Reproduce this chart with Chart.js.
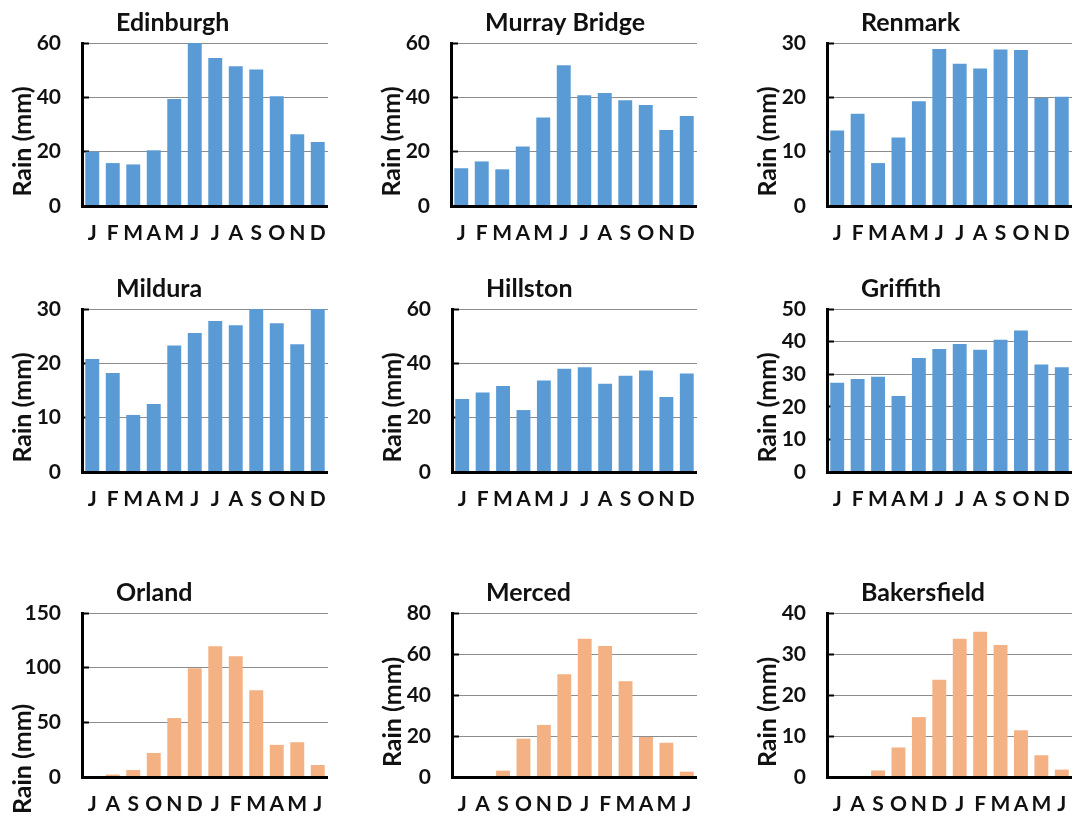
<!DOCTYPE html>
<html>
<head>
<meta charset="utf-8">
<script src="https://cdn.jsdelivr.net/npm/chart.js@4.4.1/dist/chart.umd.min.js"></script>
<style>
html, body { margin: 0; padding: 0; background: #ffffff; width: 1073px; height: 816px; overflow: hidden; position: relative; }
canvas { position: absolute; }
</style>
</head>
<body>
<script>
// ---------------- DATA ----------------
const stations = ['Edinburgh', 'Murray Bridge', 'Renmark', 'Mildura', 'Hillston', 'Griffith', 'Orland', 'Merced', 'Bakersfield'];
const monthsFromJan = ['J', 'F', 'M', 'A', 'M', 'J', 'J', 'A', 'S', 'O', 'N', 'D'];
const monthsFromJul = ['J', 'A', 'S', 'O', 'N', 'D', 'J', 'F', 'M', 'A', 'M', 'J'];
const yAxisTitle = 'Rain (mm)';

const edinburgh    = [20, 15.8, 15.3, 20.5, 39.4, 60, 54.5, 51.4, 50.2, 40.4, 26.4, 23.6];
const murrayBridge = [13.9, 16.4, 13.5, 21.9, 32.6, 51.8, 40.8, 41.6, 38.9, 37.2, 28.0, 33.1];
const renmark      = [13.9, 17.0, 7.9, 12.6, 19.3, 28.9, 26.2, 25.3, 28.8, 28.7, 19.9, 20.1];
const mildura      = [20.8, 18.2, 10.5, 12.5, 23.3, 25.6, 27.8, 27.0, 30, 27.4, 23.5, 30];
const hillston     = [26.9, 29.3, 31.7, 22.8, 33.7, 38.0, 38.6, 32.5, 35.4, 37.4, 27.6, 36.3];
const griffith     = [27.4, 28.5, 29.2, 23.3, 35.0, 37.7, 39.3, 37.5, 40.6, 43.4, 33.0, 32.1];
const orland       = [0, 2.2, 6.4, 22, 53.9, 99.5, 119.7, 110.5, 79.3, 29.4, 31.8, 11.0];
const merced       = [0.4, 0, 3.1, 18.7, 25.4, 50.1, 67.5, 63.9, 46.7, 19.5, 16.7, 2.6];
const bakersfield  = [0, 0, 1.6, 7.2, 14.6, 23.7, 33.7, 35.4, 32.2, 11.4, 5.3, 1.8];

const seriesValues = [edinburgh, murrayBridge, renmark, mildura, hillston, griffith, orland, merced, bakersfield];
const seriesMonths = [monthsFromJan, monthsFromJan, monthsFromJan, monthsFromJan, monthsFromJan, monthsFromJan, monthsFromJul, monthsFromJul, monthsFromJul];
const yMaxValues   = [60, 60, 30, 30, 60, 50, 150, 80, 40];
const yStepValues  = [20, 20, 10, 10, 20, 10, 50, 20, 10];

// ---------------- LAYOUT / STYLE ----------------
const BLUE = '#5b9bd5';
const ORANGE = '#f4b183';
const seriesColor = [BLUE, BLUE, BLUE, BLUE, BLUE, BLUE, ORANGE, ORANGE, ORANGE];
const TEXT = '#111111';
const FONT = 'Lato, "Open Sans", "DejaVu Sans", sans-serif';

// plot-area boxes: left, right, top, bottom (px), and y-title vertical shift
const panels = [
  {L: 82,  R: 328,  T: 43,  B: 206, shift: 17},
  {L: 451, R: 697,  T: 43,  B: 206, shift: 17},
  {L: 827, R: 1072, T: 43,  B: 206, shift: 17},
  {L: 82,  R: 328,  T: 309, B: 472, shift: 17},
  {L: 452, R: 697,  T: 309, B: 472, shift: 17},
  {L: 827, R: 1072, T: 309, B: 472, shift: 17},
  {L: 82,  R: 328,  T: 613, B: 777, shift: 64},
  {L: 452, R: 697,  T: 613, B: 777, shift: 17},
  {L: 827, R: 1072, T: 613, B: 777, shift: 17}
];
const Y_AXIS_W = 82, TOP_PAD = 43, X_AXIS_H = 45;

const panelText = {
  id: 'panelText',
  afterDraw(chart, args, opts) {
    const {ctx, chartArea: a} = chart;
    ctx.save();
    ctx.fillStyle = TEXT;
    ctx.font = 'bold ' + opts.titleSize + 'px ' + FONT;
    ctx.textAlign = 'left';
    ctx.textBaseline = 'alphabetic';
    ctx.fillText(opts.title, a.left + 34, a.top - 12);
    ctx.translate(a.left - 59, (a.top + a.bottom) / 2 + opts.shift);
    ctx.rotate(-Math.PI / 2);
    ctx.textAlign = 'center';
    ctx.textBaseline = 'middle';
    ctx.font = 'bold ' + opts.yTitleSize + 'px ' + FONT;
    ctx.fillText(opts.yTitle, 0, 0);
    ctx.restore();
  }
};

stations.forEach((name, i) => {
  const p = panels[i];
  const canvas = document.createElement('canvas');
  const left = p.L - Y_AXIS_W;
  const top = p.T - TOP_PAD;
  const w = p.R - left;
  const h = TOP_PAD + (p.B - p.T) + X_AXIS_H;
  canvas.width = w; canvas.height = h;
  canvas.style.left = left + 'px';
  canvas.style.top = top + 'px';
  canvas.style.width = w + 'px';
  canvas.style.height = h + 'px';
  document.body.appendChild(canvas);

  new Chart(canvas, {
    type: 'bar',
    data: {
      labels: seriesMonths[i],
      datasets: [{
        data: seriesValues[i],
        backgroundColor: seriesColor[i],
        borderWidth: 0,
        barPercentage: 0.68,
        categoryPercentage: 1.0
      }]
    },
    options: {
      responsive: false,
      animation: false,
      devicePixelRatio: 1,
      layout: { autoPadding: false, padding: { top: TOP_PAD, left: 0, right: 0, bottom: 0 } },
      plugins: {
        legend: { display: false },
        title: { display: false },
        tooltip: { enabled: false },
        panelText: { title: name, yTitle: yAxisTitle, titleSize: 25, yTitleSize: 25, shift: p.shift }
      },
      scales: {
        x: {
          grid: { display: false, drawTicks: false },
          border: { display: true, color: '#000000', width: 3, z: 1 },
          ticks: {
            autoSkip: false, maxRotation: 0, minRotation: 0, padding: 15,
            color: TEXT, font: { family: FONT, size: 21, weight: 'bold', lineHeight: 1.2 }
          },
          afterFit(scale) { scale.height = X_AXIS_H; scale.paddingLeft = 0; scale.paddingRight = 0; }
        },
        y: {
          min: 0, max: yMaxValues[i],
          grid: {
            color: (c) => (c.tick && c.tick.value === 0) ? 'rgba(0,0,0,0)' : '#8c8c8c',
            lineWidth: 1,
            drawTicks: true, tickLength: -7, tickWidth: 2, tickColor: '#000000'
          },
          border: { display: true, color: '#000000', width: 3, z: 1 },
          ticks: {
            stepSize: yStepValues[i], padding: 28,
            color: TEXT, font: { family: FONT, size: 21, weight: 'bold', lineHeight: 1.2 }
          },
          afterFit(scale) { scale.width = Y_AXIS_W; scale.paddingTop = 0; scale.paddingBottom = 0; }
        }
      }
    },
    plugins: [panelText]
  });
});
</script>
</body>
</html>
